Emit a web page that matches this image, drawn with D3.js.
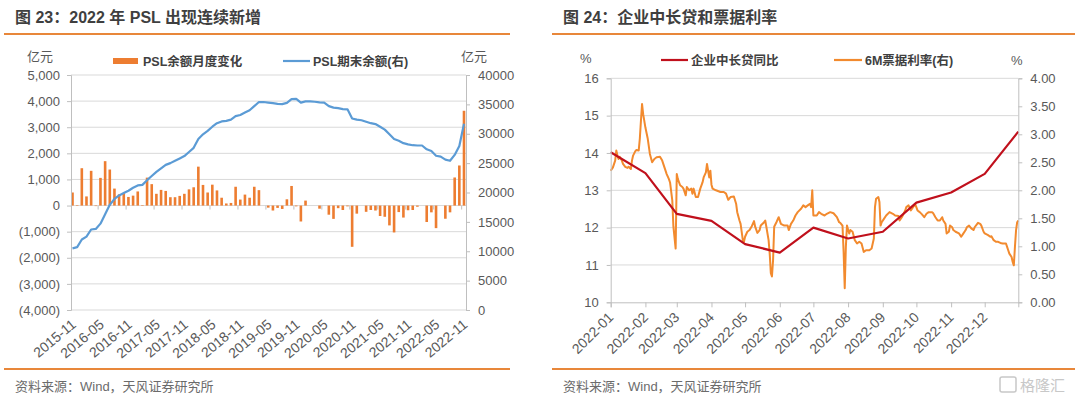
<!DOCTYPE html>
<html>
<head>
<meta charset="utf-8">
<script src="https://cdn.jsdelivr.net/npm/d3@7"></script>
<style>
  body { margin: 0; background: #fff; }
  svg text { font-family: "Liberation Sans", Arial, "Noto Sans CJK SC", sans-serif; }
</style>
</head>
<body>
<svg id="chart" width="1080" height="399"></svg>
<script>
// ---------- 图23 数据 (月度, 2015-11 ~ 2022-11) ----------
const pslStart = "2015-11";
const pslEnd = "2022-11";
const pslChange = [
  500, 20, 1430, 350, 1330, -20, 1060, 1700, 1380, 650,
  430, 480, 330, 380, 540, 20, 1070, 820, 450, 600,
  560, 320, 320, 370, 450, 620, 700, 1490, 790, 500,
  800, 580, 300, 80, 100, 720, 230, 420, 300, 720,
  590, 0, -80, -190, -90, -130, 240, 750, -30, -610,
  190, 0, 0, -120, 0, -350, -510, -100, -170, -30,
  -1580, -310, 0, -240, -170, -190, -400, -430, -760, -1030,
  -250, -460, -180, -170, -45, 0, -630, -260, -865, 0,
  -505, -260, 1075, 1535, 3630
];
const pslBalance = [
  10500, 10700, 12000, 12500, 13700, 13800, 14700, 16300, 17900, 18900,
  19500, 19900, 20300, 20800, 21200, 21300, 22100, 22800, 23500, 24100,
  24700, 25000, 25400, 25800, 26200, 26900, 27600, 29100, 29900, 30500,
  31200, 31800, 32100, 32200, 32400, 33000, 33200, 33600, 34000, 34700,
  35400, 35400, 35300, 35200, 35100, 35050, 35250, 35900, 35950, 35300,
  35500, 35500, 35450, 35350, 35300, 34700, 34450, 34350, 34200, 34150,
  32600, 32400, 32300, 32050, 31800, 31650, 31200, 30700, 29900, 29100,
  28800, 28400, 28200, 28050, 28000, 28000, 27350, 27050, 26250, 26100,
  25600, 25400, 26400, 27900, 31700
];
const pslTickLabels = ["2015-11","2016-05","2016-11","2017-05","2017-11","2018-05","2018-11",
  "2019-05","2019-11","2020-05","2020-11","2021-05","2021-11","2022-05","2022-11"];
const pslLeftTicks = [5000, 4000, 3000, 2000, 1000, 0, -1000, -2000, -3000, -4000];
const pslRightTicks = [40000, 35000, 30000, 25000, 20000, 15000, 10000, 5000, 0];

// ---------- 图24 数据 ----------
const loanDates = ["2022-01-01","2022-02-01","2022-03-01","2022-04-01","2022-05-01","2022-06-01",
  "2022-07-01","2022-08-01","2022-09-01","2022-10-01","2022-11-01","2022-12-01","2022-12-31"];
const loanYoY = [14.02, 13.46, 12.37, 12.18, 11.56, 11.33, 12.0, 11.71, 11.89, 12.67, 12.94, 13.44, 14.57];

const billDates = [
  "01-01","01-03","01-05","01-06","01-07","01-08","01-09","01-11","01-12","01-14",
  "01-16","01-17","01-19","01-20","01-21","01-23","01-24","01-26","01-27","01-28",
  "01-29","01-30","02-01","02-03","02-05","02-07","02-09","02-11","02-14","02-16",
  "02-18","02-20","02-22","02-23","02-25","02-26","02-28","03-01","03-02","03-04",
  "03-06","03-07","03-09","03-10","03-12","03-14","03-15","03-16","03-18","03-20",
  "03-22","03-24","03-25","03-27","03-28","03-30","03-31","04-01","04-02","04-05",
  "04-09","04-12","04-14","04-16","04-18","04-21","04-23","04-24","04-26","04-27",
  "04-29","04-30","05-01","05-03","05-05","05-07","05-09","05-10","05-12","05-14",
  "05-15","05-18","05-19","05-20","05-22","05-23","05-24","05-25","05-26","05-27",
  "05-29","05-31","06-02","06-05","06-08","06-09","06-11","06-13","06-15","06-17",
  "06-20","06-22","06-24","06-26","06-28","06-29","06-30","07-01","07-04","07-06",
  "07-08","07-11","07-13","07-16","07-19","07-22","07-24","07-25","07-27","07-28",
  "07-29","07-30","07-31","08-02","08-03","08-05","08-07","08-09","08-11","08-13",
  "08-15","08-17","08-20","08-22","08-24","08-25","08-26","08-28","08-29","08-30",
  "08-31","09-02","09-04","09-07","09-10","09-12","09-15","09-16","09-18","09-21",
  "09-22","09-24","09-26","09-28","09-30","10-02","10-04","10-06","10-08","10-10",
  "10-12","10-15","10-16","10-18","10-20","10-22","10-24","10-25","10-27","10-28",
  "10-30","10-31","11-02","11-03","11-05","11-08","11-10","11-12","11-14","11-15",
  "11-17","11-19","11-21","11-22","11-25","11-27","11-28","11-30","12-01","12-04",
  "12-06","12-07","12-09","12-11","12-13","12-15","12-17","12-20","12-21","12-22",
  "12-23","12-25","12-26","12-27","12-28","12-29","12-30","12-31"
];
const billRate = [
  2.35, 2.41, 2.53, 2.71, 2.62, 2.56, 2.60, 2.53, 2.47, 2.42,
  2.40, 2.42, 2.38, 2.53, 2.62, 2.70, 2.72, 2.71, 2.92, 3.24,
  3.54, 3.36, 3.12, 2.93, 2.65, 2.50, 2.56, 2.59, 2.60, 2.53,
  2.41, 2.29, 2.20, 2.14, 1.82, 1.35, 0.96, 2.29, 2.20, 2.09,
  2.06, 2.03, 1.91, 2.06, 2.00, 2.03, 1.94, 2.03, 1.88, 1.88,
  2.03, 2.14, 2.23, 2.32, 2.47, 2.23, 2.35, 2.10, 2.03, 2.00,
  1.97, 1.97, 1.94, 1.83, 1.88, 1.89, 1.76, 1.61, 1.46, 1.40,
  1.11, 1.08, 1.17, 1.26, 1.29, 1.36, 1.45, 1.35, 1.24, 1.29,
  1.37, 1.43, 1.46, 1.35, 1.11, 0.87, 0.52, 0.46, 0.75, 1.35,
  1.43, 1.52, 1.40, 1.37, 1.37, 1.29, 1.40, 1.46, 1.55, 1.61,
  1.67, 1.73, 1.70, 1.73, 1.76, 1.70, 2.00, 1.55, 1.55, 1.61,
  1.58, 1.55, 1.58, 1.61, 1.59, 1.52, 1.43, 1.42, 1.37, 0.90,
  0.25, 0.99, 1.37, 1.23, 1.29, 1.26, 1.11, 1.05, 1.08, 1.05,
  0.90, 0.93, 0.93, 0.96, 1.14, 1.70, 1.85, 1.88, 1.79, 1.37,
  1.43, 1.49, 1.55, 1.61, 1.58, 1.55, 1.54, 1.46, 1.52, 1.64,
  1.70, 1.73, 1.64, 1.70, 1.75, 1.64, 1.61, 1.57, 1.52, 1.58,
  1.61, 1.61, 1.59, 1.52, 1.46, 1.46, 1.52, 1.46, 1.40, 1.23,
  1.26, 1.37, 1.34, 1.29, 1.26, 1.23, 1.17, 1.23, 1.29, 1.34,
  1.37, 1.32, 1.29, 1.34, 1.42, 1.40, 1.37, 1.26, 1.23, 1.20,
  1.17, 1.18, 1.11, 1.08, 1.08, 1.06, 1.05, 1.05, 0.99, 0.93,
  0.87, 0.81, 0.72, 0.66, 0.99, 1.29, 1.43, 1.46
];
const loanTicks = [10, 11, 12, 13, 14, 15, 16];
const rateTicks = [0, 0.5, 1, 1.5, 2, 2.5, 3, 3.5, 4];

// ---------- 样式 ----------
const ORANGE_RULE = "#E8873A";
const BAR_COLOR = "#ED7D31";
const BLUE = "#5B9BD5";
const RED = "#C0101C";
const ORANGE_LINE = "#F28A2E";
const GRID = "#D9D9D9";
const AXIS = "#BFBFBF";
const TXT = "#595959";

const svg = d3.select("#chart");

// 标题 / 分隔线 / 来源
function frame(x0, x1, title) {
  svg.append("text").attr("x", x0 + 11).attr("y", 23)
    .attr("font-size", 16).attr("font-weight", "bold").attr("fill", "#3F3F3F")
    .text(title);
  svg.append("line").attr("x1", x0).attr("x2", x1).attr("y1", 34).attr("y2", 34)
    .attr("stroke", ORANGE_RULE).attr("stroke-width", 2);
  svg.append("line").attr("x1", x0).attr("x2", x1).attr("y1", 369).attr("y2", 369)
    .attr("stroke", ORANGE_RULE).attr("stroke-width", 2);
  svg.append("text").attr("x", x0 + 11).attr("y", 391)
    .attr("font-size", 13).attr("fill", "#6B6B6B")
    .text("资料来源：Wind，天风证券研究所");
}
frame(4, 510, "图 23：2022 年 PSL 出现连续新增");
frame(552, 1075, "图 24：企业中长贷和票据利率");

function styleAxis(g) {
  g.select(".domain").attr("stroke", AXIS);
  g.selectAll(".tick line").attr("stroke", AXIS);
  g.selectAll(".tick text").attr("fill", TXT).attr("font-size", 13);
}

// ================= 图23 =================
(function () {
  const months = d3.timeMonth.range(d3.timeParse("%Y-%m")(pslStart),
    d3.timeMonth.offset(d3.timeParse("%Y-%m")(pslEnd), 1)).map(d3.timeFormat("%Y-%m"));
  const left = 71, right = 466, top = 75, bottom = 310;

  const x = d3.scalePoint().domain(months).range([72.5, 464]);
  const yL = d3.scaleLinear().domain([-4000, 5000]).range([bottom, top]);
  const yR = d3.scaleLinear().domain([0, 40000]).range([bottom, top]);
  const step = x.step();

  const g = svg.append("g");

  // 网格
  g.append("g").selectAll("line").data(pslLeftTicks).join("line")
    .attr("x1", left).attr("x2", right)
    .attr("y1", d => yL(d)).attr("y2", d => yL(d))
    .attr("stroke", GRID);

  // 柱
  g.append("g").selectAll("rect").data(pslChange).join("rect")
    .attr("x", (d, i) => x(months[i]) - 1.3)
    .attr("width", 2.6)
    .attr("y", d => yL(Math.max(0, d)))
    .attr("height", d => Math.abs(yL(d) - yL(0)))
    .attr("fill", BAR_COLOR);

  // 0轴刻度
  g.append("g").selectAll("line").data(pslTickLabels).join("line")
    .attr("x1", d => x(d) + step * 5.5).attr("x2", d => x(d) + step * 5.5)
    .attr("y1", yL(0)).attr("y2", yL(0) + 4)
    .attr("stroke", AXIS)
    .filter(d => x(d) + step * 5.5 > right).remove();

  // 余额线
  g.append("path").datum(pslBalance)
    .attr("fill", "none").attr("stroke", BLUE).attr("stroke-width", 2.2)
    .attr("stroke-linejoin", "round")
    .attr("d", d3.line().x((d, i) => x(months[i])).y(d => yR(d)));

  // 坐标轴
  const fmt = v => v < 0 ? `(${d3.format(",")(-v)})` : d3.format(",")(v);
  g.append("g").attr("transform", `translate(${left},0)`)
    .call(d3.axisLeft(yL).tickValues(pslLeftTicks).tickFormat(fmt).tickSize(4).tickPadding(7))
    .call(styleAxis);
  g.append("g").attr("transform", `translate(${right},0)`)
    .call(d3.axisRight(yR).tickValues(pslRightTicks).tickFormat(d3.format("d")).tickSize(4).tickPadding(8))
    .call(styleAxis);

  const xa = g.append("g").attr("transform", `translate(0,${bottom})`)
    .call(d3.axisBottom(x).tickValues(pslTickLabels).tickSize(0));
  xa.select(".domain").remove();
  xa.selectAll(".tick text")
    .attr("fill", TXT).attr("font-size", 14)
    .attr("text-anchor", "end")
    .attr("dy", 0).attr("y", 0)
    .attr("transform", "translate(4,16) rotate(-40)");

  // 单位
  svg.append("text").attr("x", 27).attr("y", 61).attr("font-size", 13).attr("fill", TXT).text("亿元");
  svg.append("text").attr("x", 461).attr("y", 61).attr("font-size", 13).attr("fill", TXT).text("亿元");

  // 图例
  const lg = svg.append("g").attr("font-size", 12.5).attr("font-weight", "bold").attr("fill", "#404040");
  lg.append("rect").attr("x", 113).attr("y", 58).attr("width", 25).attr("height", 6).attr("fill", BAR_COLOR);
  lg.append("text").attr("x", 143).attr("y", 66).text("PSL余额月度变化");
  lg.append("line").attr("x1", 283).attr("x2", 310).attr("y1", 61).attr("y2", 61)
    .attr("stroke", BLUE).attr("stroke-width", 2.2);
  lg.append("text").attr("x", 313).attr("y", 66).text("PSL期末余额(右)");
})();

// ================= 图24 =================
(function () {
  const left = 610.7, right = 1018.3, top = 78.3, bottom = 302.3;
  const parse = d3.timeParse("%Y-%m-%d");
  const x = d3.scaleTime().domain([parse("2022-01-01"), parse("2022-12-31")]).range([left, right]);
  const yL = d3.scaleLinear().domain([10, 16]).range([bottom, top]);
  const yR = d3.scaleLinear().domain([0, 4]).range([bottom, top]);

  const g = svg.append("g");

  g.append("g").selectAll("line").data(loanTicks.slice(1)).join("line")
    .attr("x1", left).attr("x2", right)
    .attr("y1", d => yL(d)).attr("y2", d => yL(d))
    .attr("stroke", GRID);

  // 票据利率
  g.append("path").datum(billDates.map((d, i) => [parse("2022-" + d), billRate[i]]))
    .attr("fill", "none").attr("stroke", ORANGE_LINE).attr("stroke-width", 2)
    .attr("stroke-linejoin", "round")
    .attr("d", d3.line().x(d => x(d[0])).y(d => yR(d[1])));

  // 中长贷同比
  g.append("path").datum(loanDates.map((d, i) => [parse(d), loanYoY[i]]))
    .attr("fill", "none").attr("stroke", RED).attr("stroke-width", 2.2)
    .attr("stroke-linejoin", "round")
    .attr("d", d3.line().x(d => x(d[0])).y(d => yL(d[1])));

  g.append("g").attr("transform", `translate(${left},0)`)
    .call(d3.axisLeft(yL).tickValues(loanTicks).tickFormat(d3.format("d")).tickSize(4).tickPadding(8))
    .call(styleAxis);
  g.append("g").attr("transform", `translate(${right},0)`)
    .call(d3.axisRight(yR).tickValues(rateTicks).tickFormat(d3.format(".2f")).tickSize(4).tickPadding(8))
    .call(styleAxis);

  const xa = g.append("g").attr("transform", `translate(0,${bottom})`)
    .call(d3.axisBottom(x).ticks(d3.timeMonth.every(1)).tickFormat(d3.timeFormat("%Y-%m")).tickSize(5))
    .call(styleAxis);
  xa.selectAll(".tick text")
    .attr("font-size", 14)
    .attr("text-anchor", "end")
    .attr("dy", 0).attr("y", 0)
    .attr("transform", "translate(3,16) rotate(-45)");

  svg.append("text").attr("x", 580).attr("y", 63).attr("font-size", 13).attr("fill", TXT).text("%");
  svg.append("text").attr("x", 1011).attr("y", 65).attr("font-size", 13).attr("fill", TXT).text("%");

  const lg = svg.append("g").attr("font-size", 12.5).attr("font-weight", "bold").attr("fill", "#404040");
  lg.append("line").attr("x1", 661).attr("x2", 688).attr("y1", 60).attr("y2", 60)
    .attr("stroke", RED).attr("stroke-width", 2.2);
  lg.append("text").attr("x", 691).attr("y", 65).text("企业中长贷同比");
  lg.append("line").attr("x1", 834).attr("x2", 862).attr("y1", 60).attr("y2", 60)
    .attr("stroke", ORANGE_LINE).attr("stroke-width", 2.2);
  lg.append("text").attr("x", 865).attr("y", 65).text("6M票据利率(右)");

  // 水印
  const wm = svg.append("g").attr("fill", "none").attr("stroke", "#C8C8C8").attr("stroke-width", 1.5);
  wm.append("rect").attr("x", 1000).attr("y", 377).attr("width", 16).attr("height", 15).attr("rx", 2);
  svg.append("text").attr("x", 1020).attr("y", 391).attr("font-size", 15)
    .attr("fill", "#C8C8C8").text("格隆汇");
})();
</script>
</body>
</html>
